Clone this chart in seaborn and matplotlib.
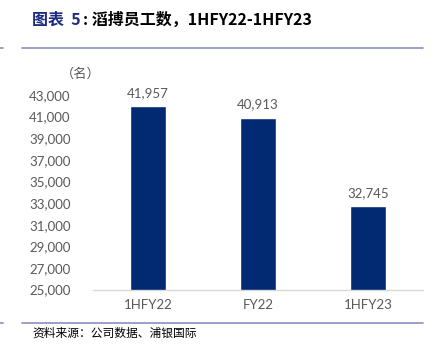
import matplotlib

matplotlib.use("Agg")
import matplotlib.pyplot as plt
import pandas as pd
import seaborn as sns
from matplotlib.lines import Line2D
from matplotlib.ticker import FuncFormatter

periods = ["1HFY22", "FY22", "1HFY23"]
employees = [41957, 40913, 32745]
y_ticks = list(range(25000, 43001, 2000))

sns.set_theme(style="white")
plt.rcParams["font.family"] = ["Noto Sans CJK SC", "DejaVu Sans"]

bar_color = "#012a72"
text_gray = "#595959"
rule_color = "#8e8ec6"

W, H = 435, 352
fig = plt.figure(figsize=(W / 100, H / 100), dpi=100)
ax = fig.add_axes([93 / W, (H - 289.5) / H, (423 - 93) / W, (289.5 - 95) / H])

df = pd.DataFrame({"period": periods, "employees": employees})
sns.barplot(data=df, x="period", y="employees", color=bar_color, width=0.32,
            saturation=1, ax=ax)

ax.set_ylim(25000, 43000)
ax.set_yticks(y_ticks)
ax.yaxis.set_major_formatter(FuncFormatter(lambda v, p: f"{int(v):,}"))
ax.set_xlim(-0.5, 2.5)
ax.set_xlabel("")
ax.set_ylabel("")
ax.tick_params(axis="both", length=0, labelsize=9.5, labelcolor=text_gray)
ax.tick_params(axis="y", pad=16)
ax.tick_params(axis="x", pad=7)
for lbl in ax.get_xticklabels() + ax.get_yticklabels():
    lbl.set_family(["Lato", "DejaVu Sans"])

for s in ["top", "right", "left"]:
    ax.spines[s].set_visible(False)
ax.spines["bottom"].set_color("#d9d9d9")
ax.spines["bottom"].set_linewidth(1)

for i, v in enumerate(employees):
    ax.annotate(f"{v:,}", (i, v), xytext=(0, 5), textcoords="offset points",
                ha="center", va="bottom", fontsize=9.5, color=text_gray,
                family=["Lato", "DejaVu Sans"])

fig.text(81 / W, 1 - 74 / H, "（名）", ha="center", va="center", fontsize=9.5,
         color=text_gray)

# title in two colours
t1 = fig.text(32 / W, 1 - 20 / H, "图表  5", ha="left", va="center", fontsize=11.5,
              fontweight="bold", color="#1c2a80")
fig.canvas.draw()
bb = t1.get_window_extent()
fig.text(bb.x1 / W + 2 / W, 1 - 20 / H, ": 滔搏员工数，1HFY22-1HFY23", ha="left",
         va="center", fontsize=11.5, fontweight="bold", color="black")

# horizontal rules
for y in (48, 323):
    fig.add_artist(Line2D([0, 3 / W], [1 - y / H] * 2, color=rule_color, lw=1.2))
    fig.add_artist(Line2D([22 / W, 423 / W], [1 - y / H] * 2, color=rule_color, lw=1.2))

fig.text(32 / W, 1 - 333 / H, "资料来源：公司数据、浦银国际", ha="left", va="center",
         fontsize=8.5, color="black")

fig.savefig("out.png", dpi=100)
